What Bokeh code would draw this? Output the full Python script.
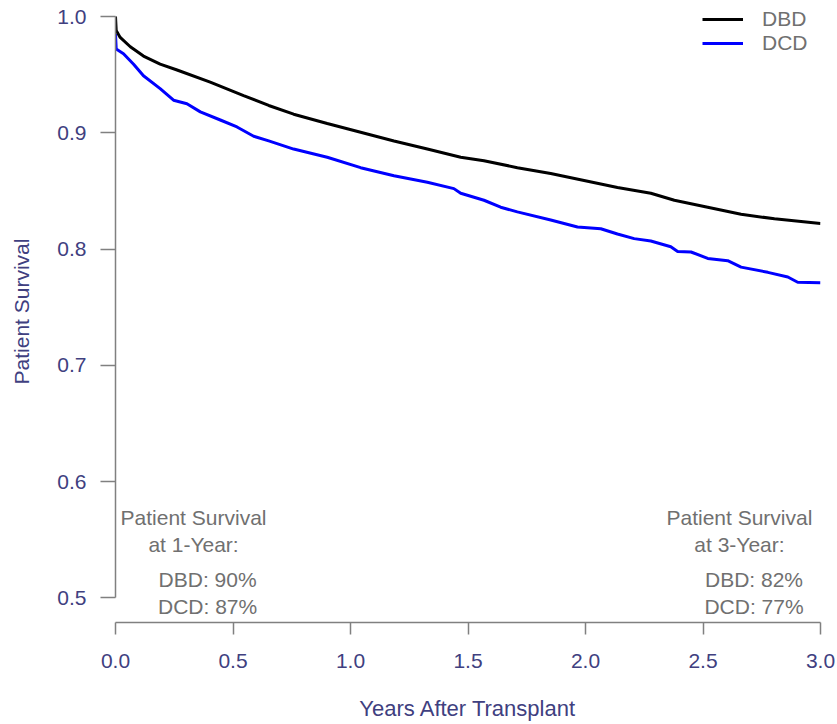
from bokeh.plotting import figure
from bokeh.models import (Range1d, FixedTicker, PrintfTickFormatter, Legend, LegendItem, Label)
from bokeh.embed import file_html
from bokeh.resources import INLINE

# ---- data ----
t_dbd = [0, 0.003, 0.02, 0.063, 0.119, 0.19, 0.262, 0.403, 0.545, 0.652, 0.758, 0.901,
         1.043, 1.185, 1.327, 1.469, 1.568, 1.710, 1.852, 1.994, 2.136, 2.278, 2.378,
         2.520, 2.662, 2.804, 3.0]
s_dbd = [1.0, 0.988, 0.982, 0.974, 0.966, 0.959, 0.954, 0.9435, 0.932, 0.9235, 0.916, 0.908,
         0.9005, 0.893, 0.886, 0.879, 0.876, 0.870, 0.865, 0.859, 0.853, 0.848, 0.842,
         0.836, 0.830, 0.826, 0.822]

t_dcd = [0, 0.003, 0.034, 0.077, 0.119, 0.19, 0.247, 0.304, 0.361, 0.446, 0.517, 0.588,
         0.652, 0.758, 0.901, 1.043, 1.185, 1.327, 1.44, 1.469, 1.568, 1.639, 1.710, 1.852,
         1.966, 2.065, 2.136, 2.207, 2.278, 2.363, 2.392, 2.449, 2.52, 2.605, 2.662, 2.776,
         2.861, 2.903, 3.0]
s_dcd = [0.985, 0.972, 0.968, 0.959, 0.949, 0.938, 0.928, 0.925, 0.918, 0.911, 0.905, 0.897,
         0.893, 0.886, 0.879, 0.870, 0.863, 0.8575, 0.852, 0.848, 0.842, 0.836, 0.832, 0.825,
         0.819, 0.8175, 0.813, 0.809, 0.807, 0.802, 0.798, 0.7975, 0.792, 0.790, 0.7845, 0.780,
         0.776, 0.7715, 0.771]

series_names = ["DBD", "DCD"]
x_ticks = [0.0, 0.5, 1.0, 1.5, 2.0, 2.5, 3.0]
y_ticks = [0.5, 0.6, 0.7, 0.8, 0.9, 1.0]
x_title = "Years After Transplant"
y_title = "Patient Survival"
note_left = ["Patient Survival", "at 1-Year:", "DBD: 90%", "DCD: 87%"]
note_right = ["Patient Survival", "at 3-Year:", "DBD: 82%", "DCD: 77%"]

FONT = "Liberation Sans"
AXIS_TXT = "#40407f"
NOTE_TXT = "#707070"
AXIS_LINE = "#808080"

p = figure(width=837, height=724, output_backend="svg", toolbar_location=None,
           x_range=Range1d(0, 3.0), y_range=Range1d(0.4789, 1.01376),
           min_border_left=115, min_border_right=17, min_border_top=0, min_border_bottom=102)
p.outline_line_color = None
p.xgrid.visible = False
p.ygrid.visible = False
p.background_fill_color = "white"
p.border_fill_color = "white"

r_dcd = p.line(t_dcd, s_dcd, line_color="#0000ff", line_width=3)
r_dbd = p.line(t_dbd, s_dbd, line_color="black", line_width=3)

# axes
for ax in (p.xaxis[0], p.yaxis[0]):
    ax.axis_line_color = AXIS_LINE
    ax.axis_line_width = 1.5
    ax.major_tick_line_color = AXIS_LINE
    ax.major_tick_line_width = 1.5
    ax.major_tick_in = 0
    ax.minor_tick_line_color = None
    ax.major_label_text_font = FONT
    ax.major_label_text_font_size = "21px"
    ax.major_label_text_color = AXIS_TXT
    ax.axis_label_text_font = FONT
    ax.axis_label_text_font_size = "21px"
    ax.axis_label_text_color = AXIS_TXT
    ax.axis_label_text_font_style = "normal"
    ax.formatter = PrintfTickFormatter(format="%.1f")

p.xaxis[0].ticker = FixedTicker(ticks=x_ticks)
p.xaxis[0].bounds = (0, 3.0)
p.xaxis[0].major_tick_out = 12
p.xaxis[0].major_label_standoff = 19
p.xaxis[0].axis_label = x_title
p.xaxis[0].axis_label_text_font_size = "22px"
p.xaxis[0].axis_label_standoff = 25

p.yaxis[0].ticker = FixedTicker(ticks=y_ticks)
p.yaxis[0].bounds = (0.5, 1.0)
p.yaxis[0].major_tick_out = 15
p.yaxis[0].major_label_standoff = 14
p.yaxis[0].axis_label = y_title
p.yaxis[0].axis_label_standoff = 21

legend = Legend(items=[LegendItem(label=series_names[0], renderers=[r_dbd]),
                       LegendItem(label=series_names[1], renderers=[r_dcd])],
                location=(587, 567), glyph_width=41, glyph_height=24, label_height=24,
                label_standoff=19, padding=0, margin=0, spacing=0,
                border_line_alpha=0, background_fill_alpha=0,
                label_text_font=FONT, label_text_font_size="21px",
                label_text_color=NOTE_TXT)
p.add_layout(legend)

# annotations
left_pos = [(0.332, 0.5692), (0.332, 0.5460), (0.392, 0.5159), (0.392, 0.4927)]
right_pos = [(2.655, 0.5692), (2.655, 0.5460), (2.717, 0.5159), (2.717, 0.4927)]
for txt, (x, y) in list(zip(note_left, left_pos)) + list(zip(note_right, right_pos)):
    p.add_layout(Label(x=x, y=y, text=txt, text_align="center", text_baseline="alphabetic",
                       text_font=FONT, text_font_size="21px", text_color=NOTE_TXT))

open("out.html", "w").write(file_html(p, INLINE))
